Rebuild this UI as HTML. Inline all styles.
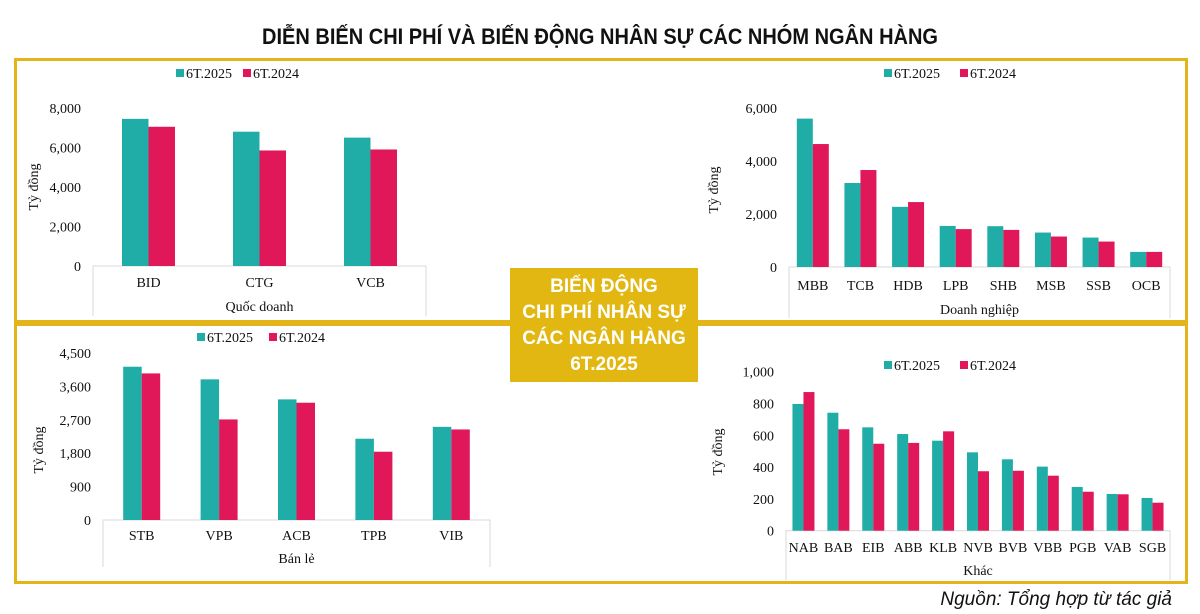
<!DOCTYPE html>
<html><head><meta charset="utf-8">
<style>
html,body{margin:0;padding:0;background:#fff;}
svg{display:block;}
.t{font-family:"Liberation Serif","DejaVu Serif",serif;fill:#111;}
</style></head>
<body>
<svg id="s" width="1200" height="614" viewBox="0 0 1200 614" xmlns="http://www.w3.org/2000/svg">
  <text x="600" y="44" text-anchor="middle" textLength="676" lengthAdjust="spacingAndGlyphs" font-family="'Liberation Sans',sans-serif" font-weight="bold" font-size="22" fill="#111">DIỄN BIẾN CHI PHÍ VÀ BIẾN ĐỘNG NHÂN SỰ CÁC NHÓM NGÂN HÀNG</text>
  <rect x="15.5" y="59.5" width="1171" height="523" fill="none" stroke="#E3B51A" stroke-width="3"/>
  <rect x="14" y="320" width="1174" height="6" fill="#E3B51A"/>
  <g id="charts"></g>
  <rect x="510" y="268" width="188" height="114" fill="#E2B712"/>
  <g font-family="'Liberation Sans','DejaVu Sans',sans-serif" font-weight="bold" font-size="19" fill="#fff" text-anchor="middle">
    <text x="604" y="292">BIẾN ĐỘNG</text>
    <text x="604" y="318">CHI PHÍ NHÂN SỰ</text>
    <text x="604" y="344">CÁC NGÂN HÀNG</text>
    <text x="604" y="370">6T.2025</text>
  </g>
  <text x="1172" y="605" text-anchor="end" font-family="'Liberation Sans',sans-serif" font-style="italic" font-size="19" fill="#111">Nguồn: Tổng hợp từ tác giả</text>
</svg>
<script>
const catsQD = ["BID","CTG","VCB"];
const v25QD = [7450,6800,6500];
const v24QD = [7050,5850,5900];
const ticksQD = [0,2000,4000,6000,8000];

const catsDN = ["MBB","TCB","HDB","LPB","SHB","MSB","SSB","OCB"];
const v25DN = [5600,3170,2270,1550,1540,1300,1110,570];
const v24DN = [4640,3660,2450,1430,1400,1150,960,570];
const ticksDN = [0,2000,4000,6000];

const catsBL = ["STB","VPB","ACB","TPB","VIB"];
const v25BL = [4130,3790,3250,2190,2510];
const v24BL = [3950,2710,3160,1840,2440];
const ticksBL = [0,900,1800,2700,3600,4500];

const catsK = ["NAB","BAB","EIB","ABB","KLB","NVB","BVB","VBB","PGB","VAB","SGB"];
const v25K = [797,742,650,608,566,493,449,403,275,231,206];
const v24K = [872,638,547,552,625,374,377,346,245,229,176];
const ticksK = [0,200,400,600,800,1000];

const NS="http://www.w3.org/2000/svg";
const root=document.getElementById('charts');
function el(tag,attrs,parent){const e=document.createElementNS(NS,tag);for(const k in attrs)e.setAttribute(k,attrs[k]);(parent||root).appendChild(e);return e;}
function fmt(v){return v.toLocaleString('en-US');}

function chart(cfg,cats,a,b,ticks){
  const g=el('g',{});
  
  
  const max=ticks[ticks.length-1];
  const y=v=>cfg.y0-(v/max)*(cfg.y0-cfg.yTop);
  const cw=(cfg.x1-cfg.x0)/cats.length;
  const x=i=>cfg.x0+cw*i+cw/2;
  // category axis box
  const box=el('path',{d:`M${cfg.x0} ${cfg.boxB}V${cfg.y0}H${cfg.x1}V${cfg.boxB}`,fill:'none',stroke:'#d9d9d9','stroke-width':1},g);
  
  
  ticks.forEach(t=>{
    const tx=el('text',{x:cfg.x0-12,y:y(t)+5,'text-anchor':'end','font-size':cfg.fs,class:'t'},g);
    tx.textContent=fmt(t);
    
    
  });
  cats.forEach((c,i)=>{
    const r1=el('rect',{x:x(i)-cfg.bw,y:y(a[i]),width:cfg.bw,height:cfg.y0-y(a[i]),fill:'#20ADA8'},g);
    
    
    const r2=el('rect',{x:x(i),y:y(b[i]),width:cfg.bw,height:cfg.y0-y(b[i]),fill:'#E0185A'},g);
    
    
    const lt=el('text',{x:x(i),y:cfg.catY,'text-anchor':'middle','font-size':cfg.cfs,class:'t'},g);
    lt.textContent=c;
    
    
  });
  const at=el('text',{x:(cfg.x0+cfg.x1)/2,y:cfg.titleY,'text-anchor':'middle','font-size':14,class:'t'},g);
  at.textContent=cfg.title;
  
  
  const yt=el('text',{x:0,y:0,'text-anchor':'middle','font-size':14,class:'t',transform:`translate(${cfg.ytX},${cfg.ytY}) rotate(-90)`},g);
  yt.textContent='Tỷ đồng';
  
  
  // legend
  const lg=el('g',{},g);
  
  
  [['#20ADA8','6T.2025',0],['#E0185A','6T.2024',cfg.lgGap]].forEach(([col,lab,dx])=>{
    const sq=el('rect',{x:cfg.lgX+dx,y:cfg.lgY-9,width:8,height:8,fill:col},lg);
    
    
    const lt=el('text',{x:cfg.lgX+dx+10,y:cfg.lgY,'font-size':14,class:'t'},lg);
    lt.textContent=lab;
    
    
  });
}

chart({name:'chart-quoc-doanh',x0:93,x1:426,y0:266,yTop:108,bw:26.5,fs:14,cfs:14,catY:287,titleY:311,boxB:316,ytX:38,ytY:187,lgX:176,lgY:78,lgGap:67,title:'Quốc doanh'},catsQD,v25QD,v24QD,ticksQD);
chart({name:'chart-doanh-nghiep',x0:789,x1:1170,y0:267,yTop:108,bw:16,fs:14,cfs:14,catY:290,titleY:314,boxB:318,ytX:718,ytY:190,lgX:884,lgY:78,lgGap:76,title:'Doanh nghiệp'},catsDN,v25DN,v24DN,ticksDN);
chart({name:'chart-ban-le',x0:103,x1:490,y0:520,yTop:353,bw:18.5,fs:14,cfs:14,catY:540,titleY:563,boxB:567,ytX:43,ytY:450,lgX:197,lgY:342,lgGap:72,title:'Bán lẻ'},catsBL,v25BL,v24BL,ticksBL);
chart({name:'chart-khac',x0:786,x1:1170,y0:530.7,yTop:371.7,bw:11,fs:14,cfs:14,catY:552,titleY:575,boxB:580,ytX:722,ytY:452,lgX:884,lgY:370,lgGap:76,title:'Khác'},catsK,v25K,v24K,ticksK);
</script>
</body></html>
